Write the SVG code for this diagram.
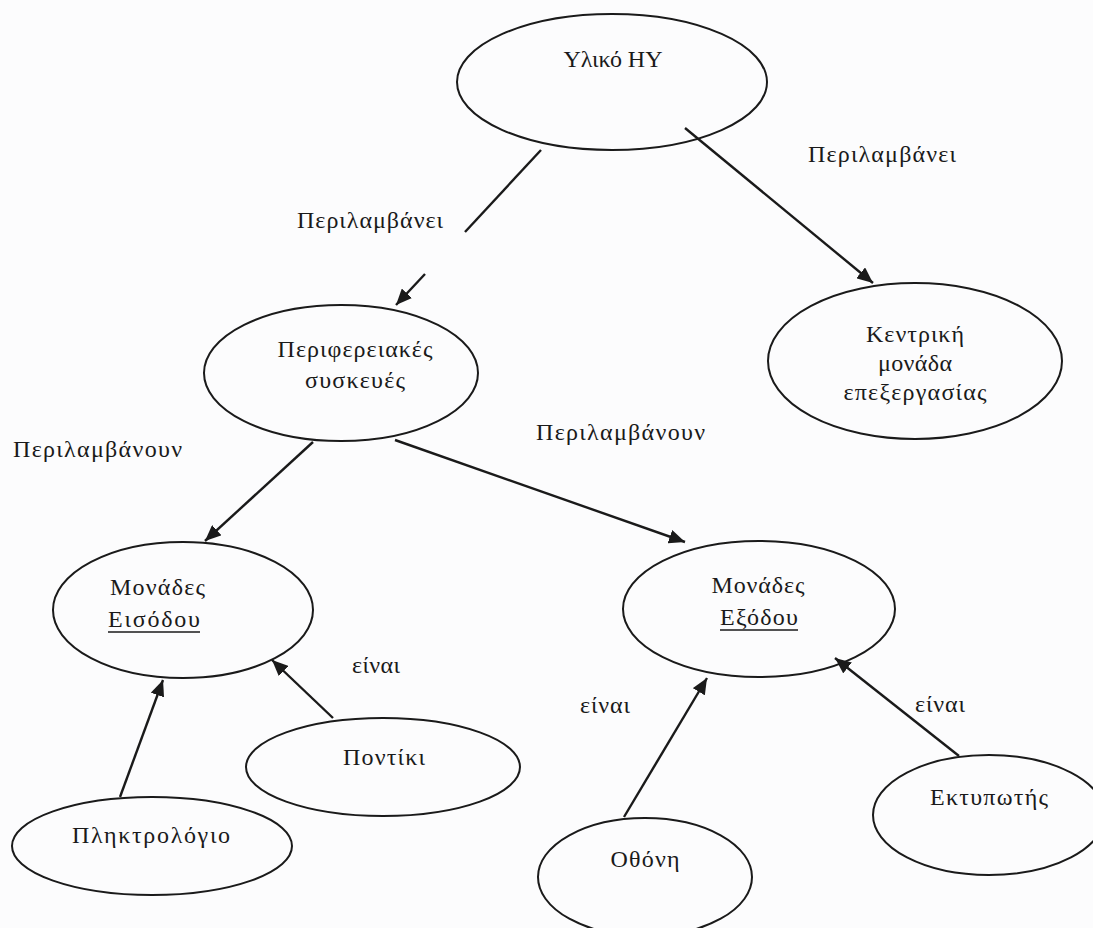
<svg xmlns="http://www.w3.org/2000/svg" width="1093" height="928" viewBox="0 0 1093 928">
<style>
.bg{fill:#fcfcfd}
.node ellipse{fill:none;stroke:#1a1a1a;stroke-width:2}
text{font-family:"Liberation Serif","Times New Roman","DejaVu Serif",serif;font-size:24px;fill:#1a1a1a}
.c{text-anchor:middle}
.conn line{stroke:#1a1a1a;stroke-width:2.4}
.ul{stroke:#1a1a1a;stroke-width:1.4}
</style>
<defs>
<marker id="ah" markerUnits="userSpaceOnUse" markerWidth="18" markerHeight="14" refX="16" refY="7" orient="auto">
<path d="M0,0 L16,7 L0,14 Z" fill="#1a1a1a"/>
</marker>
</defs>
<rect class="bg" x="0" y="0" width="1093" height="928"/>

<g id="connectors" class="conn">
<line x1="541" y1="150" x2="465" y2="232"/>
<line x1="425" y1="274" x2="396" y2="305" marker-end="url(#ah)"/>
<line x1="685" y1="128" x2="873" y2="283" marker-end="url(#ah)"/>
<line x1="313" y1="442" x2="205" y2="541" marker-end="url(#ah)"/>
<line x1="395" y1="440" x2="685" y2="542" marker-end="url(#ah)"/>
<line x1="120" y1="797" x2="163" y2="680" marker-end="url(#ah)"/>
<line x1="333" y1="718" x2="272" y2="660" marker-end="url(#ah)"/>
<line x1="624" y1="817" x2="707" y2="678" marker-end="url(#ah)"/>
<line x1="959" y1="756" x2="835" y2="658" marker-end="url(#ah)"/>
</g>

<g id="labels">
<text x="297" y="228" textLength="146" lengthAdjust="spacing">Περιλαμβάνει</text>
<text x="808" y="162" textLength="148" lengthAdjust="spacing">Περιλαμβάνει</text>
<text x="13" y="457" textLength="169" lengthAdjust="spacing">Περιλαμβάνουν</text>
<text x="536" y="440" textLength="169" lengthAdjust="spacing">Περιλαμβάνουν</text>
<text x="352" y="673" textLength="48" lengthAdjust="spacing">είναι</text>
<text x="580" y="713" textLength="50" lengthAdjust="spacing">είναι</text>
<text x="915" y="712" textLength="50" lengthAdjust="spacing">είναι</text>
</g>

<g id="node-yliko" class="node">
<ellipse cx="612" cy="82" rx="155" ry="68"/>
<text class="c" x="613" y="67" textLength="99" lengthAdjust="spacing">Υλικό ΗΥ</text>
</g>

<g id="node-kme" class="node">
<ellipse cx="915" cy="361" rx="147" ry="78"/>
<text class="c" x="915" y="342" textLength="98" lengthAdjust="spacing">Κεντρική</text>
<text class="c" x="915" y="371" textLength="74" lengthAdjust="spacing">μονάδα</text>
<text class="c" x="915" y="400" textLength="143" lengthAdjust="spacing">επεξεργασίας</text>
</g>

<g id="node-peripheral" class="node">
<ellipse cx="341" cy="373" rx="137" ry="68"/>
<text class="c" x="355" y="357" textLength="155" lengthAdjust="spacing">Περιφερειακές</text>
<text class="c" x="355" y="388" textLength="100" lengthAdjust="spacing">συσκευές</text>
</g>

<g id="node-input" class="node">
<ellipse cx="183" cy="610" rx="130" ry="68"/>
<text x="110" y="595" textLength="95" lengthAdjust="spacing">Μονάδες</text>
<text x="108" y="627" textLength="92" lengthAdjust="spacing">Εισόδου</text>
<line class="ul" x1="108" y1="632" x2="200" y2="632"/>
</g>

<g id="node-output" class="node">
<ellipse cx="759" cy="609" rx="136" ry="68"/>
<text class="c" x="758" y="593" textLength="93" lengthAdjust="spacing">Μονάδες</text>
<text class="c" x="759" y="625" textLength="78" lengthAdjust="spacing">Εξόδου</text>
<line class="ul" x1="720" y1="630" x2="798" y2="630"/>
</g>

<g id="node-keyboard" class="node">
<ellipse cx="152" cy="846" rx="140" ry="49"/>
<text class="c" x="151" y="843" textLength="158" lengthAdjust="spacing">Πληκτρολόγιο</text>
</g>

<g id="node-mouse" class="node">
<ellipse cx="383" cy="767" rx="137" ry="49"/>
<text class="c" x="384" y="765" textLength="82" lengthAdjust="spacing">Ποντίκι</text>
</g>

<g id="node-screen" class="node">
<ellipse cx="645" cy="877" rx="107" ry="59"/>
<text class="c" x="645" y="867" textLength="69" lengthAdjust="spacing">Οθόνη</text>
</g>

<g id="node-printer" class="node">
<ellipse cx="989" cy="815" rx="116" ry="60"/>
<text class="c" x="989" y="805" textLength="118" lengthAdjust="spacing">Εκτυπωτής</text>
</g>
</svg>
